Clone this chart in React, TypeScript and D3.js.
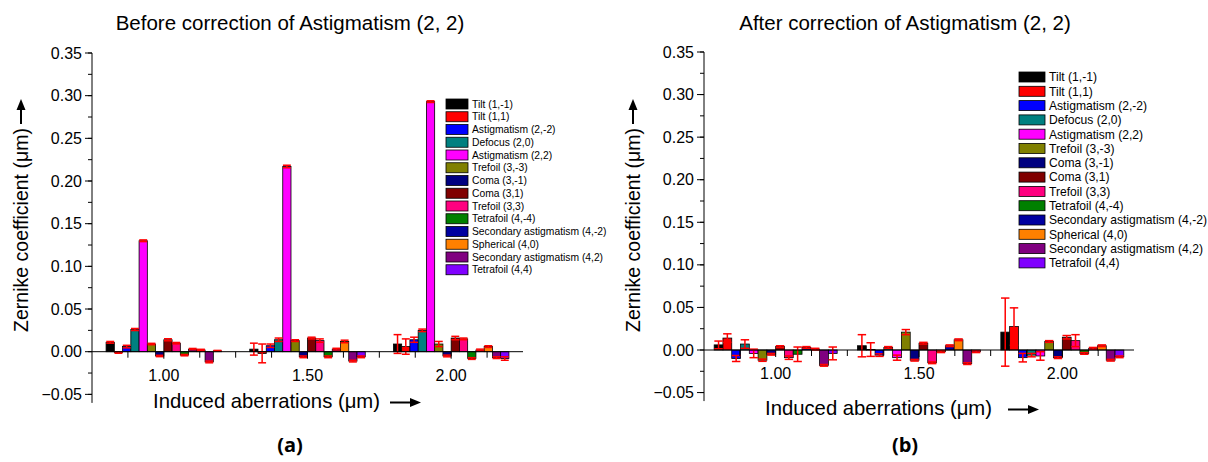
import React from "react";
import * as d3 from "d3";

const groupLabels = ["1.00", "1.50", "2.00"];
const groupX = [1.0, 1.5, 2.0];
const yTicks = [-0.05, 0.0, 0.05, 0.1, 0.15, 0.2, 0.25, 0.3, 0.35];

const seriesNames = [
  "Tilt (1,-1)", "Tilt (1,1)", "Astigmatism (2,-2)", "Defocus (2,0)", "Astigmatism (2,2)",
  "Trefoil (3,-3)", "Coma (3,-1)", "Coma (3,1)", "Trefoil (3,3)", "Tetrafoil (4,-4)",
  "Secondary astigmatism (4,-2)", "Spherical (4,0)", "Secondary astigmatism (4,2)", "Tetrafoil (4,4)",
];
const seriesColors = [
  "#000000", "#ff0000", "#0000ff", "#008080", "#ff00ff", "#808000", "#000080",
  "#800000", "#ff0080", "#008000", "#0000a0", "#ff8000", "#800080", "#8000ff",
];

// Before correction (a)
const before100 = [0.011, -0.001, 0.006, 0.026, 0.130, 0.009, -0.005, 0.014, 0.010, -0.004, 0.003, 0.002, -0.012, 0.001];
const before150 = [0.003, -0.002, 0.007, 0.014, 0.217, 0.013, -0.006, 0.016, 0.013, -0.006, 0.003, 0.012, -0.011, -0.006];
const before200 = [0.009, 0.006, 0.014, 0.025, 0.293, 0.009, -0.005, 0.016, 0.015, -0.008, 0.002, 0.006, -0.007, -0.008];
const beforeErr100 = [0.001, 0.0008, 0.0015, 0.0012, 0.001, 0.0008, 0.0008, 0.0012, 0.0008, 0.0008, 0.0008, 0.0008, 0.001, 0.0005];
const beforeErr150 = [0.007, 0.011, 0.002, 0.002, 0.0015, 0.001, 0.001, 0.001, 0.002, 0.001, 0.001, 0.0015, 0.001, 0.001];
const beforeErr200 = [0.011, 0.009, 0.003, 0.0015, 0.001, 0.003, 0.001, 0.002, 0.001, 0.001, 0.001, 0.001, 0.001, 0.002];

// After correction (b)
const after100 = [0.006, 0.014, -0.010, 0.007, -0.004, -0.012, -0.005, 0.004, -0.009, -0.005, 0.003, 0.001, -0.018, -0.004];
const after150 = [0.005, 0.0005, -0.006, 0.003, -0.009, 0.021, -0.012, 0.008, -0.015, -0.002, 0.005, 0.012, -0.016, -0.002];
const after200 = [0.021, 0.0275, -0.009, -0.006, -0.007, 0.010, -0.009, 0.015, 0.011, -0.004, 0.002, 0.005, -0.012, -0.008];
const afterErr100 = [0.0045, 0.005, 0.0035, 0.005, 0.005, 0.0013, 0.001, 0.001, 0.002, 0.0085, 0.001, 0.001, 0.001, 0.0075];
const afterErr150 = [0.013, 0.008, 0.0015, 0.001, 0.003, 0.003, 0.001, 0.001, 0.001, 0.001, 0.001, 0.001, 0.001, 0.001];
const afterErr200 = [0.040, 0.022, 0.005, 0.002, 0.005, 0.001, 0.001, 0.002, 0.007, 0.001, 0.001, 0.001, 0.001, 0.001];

const FONT = "'Liberation Sans', Arial, sans-serif";

type PanelProps = {
  title: string;
  tag: string;
  values: number[][];
  errors: number[][];
  xRange: [number, number];
  yZero: number;
  yTop: number;
  groupWidth: number;
  legendX: number;
  legendY: number;
  legendStep: number;
  legendFont: number;
  swatchW: number;
  swatchH: number;
  xTitleY: number;
  arrowDx: number;
  titleX: number;
};

function Panel(p: PanelProps) {
  const x = d3.scaleLinear().domain([0.75, 2.25]).range(p.xRange);
  const y = d3.scaleLinear().domain([0, 0.35]).range([p.yZero, p.yTop]);
  const yBottom = -0.06;
  const x0 = p.xRange[0];
  const nS = seriesNames.length;
  const band = d3.scaleBand<number>().domain(d3.range(nS)).range([-p.groupWidth / 2, p.groupWidth / 2]).padding(0);
  const bw = band.bandwidth();
  const minorY = d3.range(-0.05, 0.3501, 0.025);
  const xMinor = d3.range(0.875, 2.2, 0.125);
  const axisFont = 16;

  return (
    <g>
      <text x={p.titleX} y={30} textAnchor="middle" fontFamily={FONT} fontSize={20.5}>{p.title}</text>
      {p.values.map((vals, gi) =>
        vals.map((v, si) => {
          const bx = x(groupX[gi]) + (band(si) as number);
          const y1 = y(Math.max(v, 0));
          const y2 = y(Math.min(v, 0));
          return (
            <rect key={`b${gi}-${si}`} x={bx} y={y1} width={bw} height={Math.max(y2 - y1, 0.5)}
              fill={seriesColors[si]} stroke="#000" strokeWidth={0.8} />
          );
        })
      )}
      {p.values.map((vals, gi) =>
        vals.map((v, si) => {
          const cx = x(groupX[gi]) + (band(si) as number) + bw / 2;
          const e = p.errors[gi][si];
          const ya = y(v + e);
          const yb = y(v - e);
          const cw = bw * 0.48;
          return (
            <g key={`e${gi}-${si}`} stroke="#ff0000" strokeWidth={1.5}>
              <line x1={cx} x2={cx} y1={ya} y2={yb} />
              <line x1={cx - cw} x2={cx + cw} y1={ya} y2={ya} />
              <line x1={cx - cw} x2={cx + cw} y1={yb} y2={yb} />
            </g>
          );
        })
      )}
      <line x1={x0} x2={x0} y1={p.yTop} y2={y(yBottom)} stroke="#000" strokeWidth={1} />
      {minorY.map((t, i) => (
        <line key={`ym${i}`} x1={x0 - 4} x2={x0} y1={y(t)} y2={y(t)} stroke="#000" strokeWidth={1} />
      ))}
      {yTicks.map((t, i) => (
        <g key={`yt${i}`}>
          <line x1={x0 - 7} x2={x0} y1={y(t)} y2={y(t)} stroke="#000" strokeWidth={1} />
          <text x={x0 - 10} y={y(t) + 5.5} textAnchor="end" fontFamily={FONT} fontSize={axisFont}>{d3.format(".2f")(t)}</text>
        </g>
      ))}
      <line x1={x0} x2={p.xRange[1]} y1={p.yZero} y2={p.yZero} stroke="#000" strokeWidth={1} />
      {xMinor.map((t, i) => {
        const major = Math.abs((t * 2) % 1) < 1e-6;
        return (
          <line key={`xm${i}`} x1={x(t)} x2={x(t)} y1={p.yZero} y2={p.yZero + (major ? 7 : 6)} stroke="#000" strokeWidth={1} />
        );
      })}
      {groupX.map((g, i) => (
        <text key={`xl${i}`} x={x(g)} y={p.yZero + 29} textAnchor="middle" fontFamily={FONT} fontSize={axisFont}>{groupLabels[i]}</text>
      ))}
      <text x={x0 + 61} y={p.xTitleY} fontFamily={FONT} fontSize={20.3}>Induced aberrations (μm)</text>
      <g transform={`translate(${x0 + p.arrowDx},${p.xTitleY - 5.5})`}>
        <line x1={0} x2={22} y1={0} y2={0} stroke="#000" strokeWidth={2} />
        <path d="M 20 -4.5 L 31 0 L 20 4.5 Z" fill="#000" />
      </g>
      <g transform={`translate(${x0 - 64},${230}) rotate(-90)`}>
        <text x={0} y={0} textAnchor="middle" fontFamily={FONT} fontSize={19.5}>Zernike coefficient (μm)</text>
        <g transform={`translate(106,-7)`}>
          <line x1={0} x2={16} y1={0} y2={0} stroke="#000" strokeWidth={2} />
          <path d="M 14 -4.5 L 25 0 L 14 4.5 Z" fill="#000" />
        </g>
      </g>
      {seriesNames.map((n, i) => (
        <g key={`lg${i}`} transform={`translate(${p.legendX},${p.legendY + i * p.legendStep})`}>
          <rect x={0} y={-p.swatchH / 2} width={p.swatchW} height={p.swatchH} fill={seriesColors[i]} stroke="#000" strokeWidth={0.8} />
          <text x={p.swatchW + 4} y={p.legendFont * 0.36} fontFamily={FONT} fontSize={p.legendFont}>{n}</text>
        </g>
      ))}
      <text x={p.titleX} y={452} textAnchor="middle" fontFamily="'Open Sans', sans-serif" fontWeight="bold" fontSize={20}>{p.tag}</text>
    </g>
  );
}

export default function App() {
  return (
    <svg width={1208} height={462} style={{ position: "absolute", left: 0, top: 0, background: "#fff" }}>
      <rect width={1208} height={462} fill="#fff" />
      <Panel title="Before correction of Astigmatism (2, 2)" tag="(a)"
        values={[before100, before150, before200]} errors={[beforeErr100, beforeErr150, beforeErr200]}
        xRange={[92, 523]} yZero={351.7} yTop={53} groupWidth={115.5}
        legendX={446} legendY={104} legendStep={12.75} legendFont={10.3} swatchW={22} swatchH={10}
        xTitleY={408} arrowDx={298} titleX={290} />
      <Panel title="After correction of Astigmatism (2, 2)" tag="(b)"
        values={[after100, after150, after200]} errors={[afterErr100, afterErr150, afterErr200]}
        xRange={[704, 1134]} yZero={350} yTop={52} groupWidth={123}
        legendX={1019} legendY={77} legendStep={14.3} legendFont={12.1} swatchW={26} swatchH={10}
        xTitleY={415} arrowDx={304} titleX={905} />
    </svg>
  );
}
